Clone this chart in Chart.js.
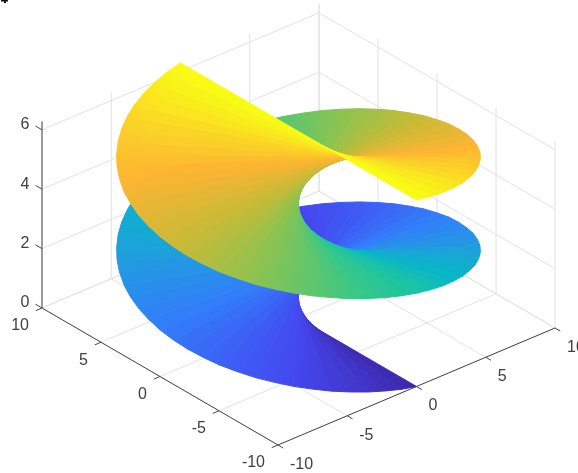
<!DOCTYPE html>
<html>
<head>
<meta charset="utf-8">
<style>
  html, body { margin: 0; padding: 0; background: #fff; overflow: hidden; }
</style>
<script src="https://cdn.jsdelivr.net/npm/chart.js@4"></script>
</head>
<body>
<canvas id="myChart" width="578" height="473"></canvas>
<script>
// rim of the first arm of the surface, read around one turn (second arm is the opposite side)
const rimX = [0, -1.05, -2.08, -3.09, -4.07, -5, -5.88, -6.69, -7.43, -8.09, -8.66, -9.14, -9.51, -9.78, -9.95, -10,
  -9.95, -9.78, -9.51, -9.14, -8.66, -8.09, -7.43, -6.69, -5.88, -5, -4.07, -3.09, -2.08, -1.05, 0,
  1.05, 2.08, 3.09, 4.07, 5, 5.88, 6.69, 7.43, 8.09, 8.66, 9.14, 9.51, 9.78, 9.95, 10,
  9.95, 9.78, 9.51, 9.14, 8.66, 8.09, 7.43, 6.69, 5.88, 5, 4.07, 3.09, 2.08, 1.05, 0];
const rimY = [-10, -9.95, -9.78, -9.51, -9.14, -8.66, -8.09, -7.43, -6.69, -5.88, -5, -4.07, -3.09, -2.08, -1.05, 0,
  1.05, 2.08, 3.09, 4.07, 5, 5.88, 6.69, 7.43, 8.09, 8.66, 9.14, 9.51, 9.78, 9.95, 10,
  9.95, 9.78, 9.51, 9.14, 8.66, 8.09, 7.43, 6.69, 5.88, 5, 4.07, 3.09, 2.08, 1.05, 0,
  -1.05, -2.08, -3.09, -4.07, -5, -5.88, -6.69, -7.43, -8.09, -8.66, -9.14, -9.51, -9.78, -9.95, -10];
const rimZ = [0, 0.10, 0.21, 0.31, 0.42, 0.52, 0.63, 0.73, 0.84, 0.94, 1.05, 1.15, 1.26, 1.36, 1.47, 1.57,
  1.68, 1.78, 1.88, 1.99, 2.09, 2.20, 2.30, 2.41, 2.51, 2.62, 2.72, 2.83, 2.93, 3.04, 3.14,
  3.25, 3.35, 3.46, 3.56, 3.67, 3.77, 3.87, 3.98, 4.08, 4.19, 4.29, 4.40, 4.50, 4.61, 4.71,
  4.82, 4.92, 5.03, 5.13, 5.24, 5.34, 5.45, 5.55, 5.65, 5.76, 5.86, 5.97, 6.07, 6.18, 6.28];

const xyTicks = [-10, -5, 0, 5, 10];
const zTicks = [0, 2, 4, 6];
const zTop = 6.28;

// colormap, from z = 0 up to z = zTop
const colorStops = [
  [0, 62, 38, 168], [0.12, 68, 72, 240], [0.25, 50, 125, 250], [0.36, 30, 160, 220],
  [0.45, 8, 182, 198], [0.5, 25, 195, 165], [0.56, 55, 200, 135], [0.65, 140, 195, 80], [0.72, 195, 187, 55],
  [0.83, 254, 180, 50], [0.91, 250, 210, 40], [1, 249, 251, 20]
];

function colorFor(z) {
  const f = z / zTop;
  for (let i = 1; i < colorStops.length; i++) {
    if (f <= colorStops[i][0]) {
      const a = colorStops[i - 1], b = colorStops[i];
      const m = (f - a[0]) / (b[0] - a[0]);
      return 'rgb(' + [1, 2, 3].map(k => Math.round(a[k] + (b[k] - a[k]) * m)).join(',') + ')';
    }
  }
  return 'rgb(249,251,20)';
}

// view: one unit of x, y and z on the flat plot plane
function project(x, y, z) {
  return {
    x: 298.5 + 13.85 * x - 11.8 * y,
    y: 318 - 5.85 * x - 6.85 * y - 29.7 * z
  };
}

const ctx = document.getElementById('myChart').getContext('2d');
const datasets = [];

function addLine(points, color, order) {
  datasets.push({
    data: points.map(p => project(p[0], p[1], p[2])),
    showLine: true,
    borderColor: color,
    borderWidth: 1,
    pointRadius: 0,
    order: order
  });
}

// grid on the floor and the two back walls
const gridColor = 'rgb(226,226,230)';
xyTicks.forEach(t => {
  addLine([[t, -10, 0], [t, 10, 0], [t, 10, zTop]], gridColor, 1000);
  addLine([[-10, t, 0], [10, t, 0], [10, t, zTop]], gridColor, 1000);
});
zTicks.forEach(t => {
  addLine([[-10, 10, t], [10, 10, t], [10, -10, t]], gridColor, 1000);
});

// axes and tick marks
const axisColor = 'rgb(70,70,70)';
addLine([[-10, 10, 0], [-10, 10, zTop]], axisColor, 999);
addLine([[-10, 10, 0], [-10, -10, 0], [10, -10, 0]], axisColor, 999);
xyTicks.forEach(t => {
  addLine([[-10, t, 0], [-10.45, t, 0]], axisColor, 999);
  addLine([[t, -10, 0], [t, -10.45, 0]], axisColor, 999);
});
zTicks.forEach(t => {
  addLine([[-10, 10, t], [-10, 10.55, t]], axisColor, 999);
});

// surface: one wedge per rim step on both arms, low z drawn first
for (let i = 0; i < rimZ.length - 1; i++) {
  [1, -1].forEach(arm => {
    const a = project(0, 0, rimZ[i]);
    const b = project(arm * rimX[i], arm * rimY[i], rimZ[i]);
    const c = project(arm * rimX[i + 1], arm * rimY[i + 1], rimZ[i + 1]);
    const d = project(0, 0, rimZ[i + 1]);
    // colour runs across the wedge so the rim stays smooth
    const shade = ctx.createLinearGradient(b.x, b.y, c.x, c.y);
    shade.addColorStop(0, colorFor(rimZ[i]));
    shade.addColorStop(1, colorFor(rimZ[i + 1]));
    datasets.push({
      data: [a, b, c, d, a],
      showLine: true,
      fill: 'shape',
      backgroundColor: shade,
      borderColor: shade,
      borderWidth: 1,
      pointRadius: 0,
      order: rimZ.length - i
    });
  });
}

// small stray mark at the top left corner of the picture
datasets.push({
  data: [{ x: 1, y: 0.5 }, { x: 8, y: 0.5 }, { x: 5, y: 0.5 }, { x: 5, y: 3 }],
  showLine: true,
  borderColor: '#111',
  borderWidth: 2,
  pointRadius: 0,
  order: 1
});

const tickLabels = {
  id: 'tickLabels',
  afterDraw(chart) {
    const c = chart.ctx;
    const sx = chart.scales.x, sy = chart.scales.y;
    c.save();
    c.font = '16px "Liberation Sans"';
    c.fillStyle = 'rgb(64,64,64)';
    c.textBaseline = 'middle';
    const put = (text, p, dx, dy, align) => {
      c.textAlign = align;
      c.fillText(text, sx.getPixelForValue(p.x) + dx, sy.getPixelForValue(p.y) + dy);
    };
    xyTicks.forEach(t => {
      put(String(t), project(-10, t, 0), -13, 18, 'right');
      put(String(t), project(t, -10, 0), 12, 19.5, 'left');
    });
    zTicks.forEach(t => {
      put(String(t), project(-10, 10, t), -17, -5, 'center');
    });
    c.restore();
  }
};

const chart = new Chart(ctx, {
  type: 'scatter',
  data: { datasets: datasets },
  plugins: [tickLabels],
  options: {
    responsive: false,
    animation: false,
    layout: { padding: 0 },
    plugins: { legend: { display: false }, tooltip: { enabled: false } },
    scales: {
      x: { type: 'linear', min: 0, max: 578, display: false },
      y: { type: 'linear', min: 0, max: 473, reverse: true, display: false }
    }
  }
});
</script>
</body>
</html>
